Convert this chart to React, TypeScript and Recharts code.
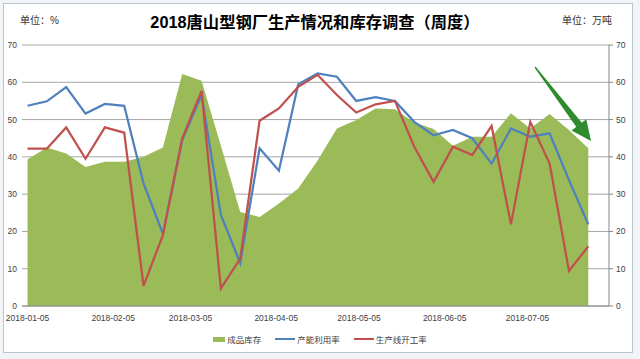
import React from 'react';
import { ComposedChart, Area, Line, XAxis, YAxis, CartesianGrid, Legend } from 'recharts';

// weekly survey dates
const dates = [
  '2018-01-05', '2018-01-12', '2018-01-19', '2018-01-26', '2018-02-02', '2018-02-09',
  '2018-02-16', '2018-02-23', '2018-03-02', '2018-03-09', '2018-03-16', '2018-03-23',
  '2018-03-30', '2018-04-06', '2018-04-13', '2018-04-20', '2018-04-27', '2018-05-04',
  '2018-05-11', '2018-05-18', '2018-05-25', '2018-06-01', '2018-06-08', '2018-06-15',
  '2018-06-22', '2018-06-29', '2018-07-06', '2018-07-13', '2018-07-20', '2018-07-27',
];

// 成品库存 (万吨)
const inventory = [
  39.3, 42.5, 40.9, 37.3, 38.7, 38.7, 40.0, 42.5, 62.2, 60.4,
  43.0, 25.2, 23.9, 27.5, 31.5, 39.0, 47.6, 49.9, 53.0, 52.8,
  49.2, 47.5, 43.0, 45.4, 45.4, 51.7, 47.6, 51.5, 47.2, 42.3,
];

// 产能利用率 (%)
const capacityRate = [
  53.7, 54.9, 58.7, 51.6, 54.2, 53.7, 32.9, 19.4, 44.5, 56.6,
  24.4, 11.5, 42.3, 36.3, 59.5, 62.4, 61.5, 55.0, 56.0, 55.0,
  49.4, 45.8, 47.2, 45.0, 38.2, 47.6, 45.4, 46.3, 33.8, 21.9,
];

// 生产线开工率 (%)
const operatingRate = [
  42.2, 42.2, 47.9, 39.5, 47.9, 46.5, 5.4, 19.0, 44.9, 57.7,
  4.7, 12.7, 49.7, 53.0, 58.8, 62.0, 56.6, 51.9, 54.1, 55.0,
  42.7, 33.3, 42.7, 40.5, 48.3, 21.9, 49.4, 38.2, 9.4, 16.0,
];

const tickLabels = ['2018-01-05', '2018-02-05', '2018-03-05', '2018-04-05', '2018-05-05', '2018-06-05', '2018-07-05'];
const yTicks = [0, 10, 20, 30, 40, 50, 60, 70];

const seriesOrder = ['inventory', 'capacity', 'operating'];
const seriesNames = { inventory: '成品库存', capacity: '产能利用率', operating: '生产线开工率' };
const seriesColors: Record<string, string> = { inventory: '#9BBB59', capacity: '#4F81BD', operating: '#C0504D' };

const FONT = '"Liberation Sans", "Noto Sans CJK SC", sans-serif';
const DAY = 86400000;
const toDay = (d: string) => (Date.parse(d) - Date.parse(dates[0])) / DAY;

const data = dates.map((d, i) => ({
  day: toDay(d),
  date: d,
  inventory: inventory[i],
  capacity: capacityRate[i],
  operating: operatingRate[i],
}));

const tickDays = tickLabels.map(toDay);
const formatTick = (v: number) => tickLabels[tickDays.indexOf(v)] ?? '';

const LegendContent = ({ payload }: any) => {
  const items = [...(payload || [])].sort(
    (a: any, b: any) => seriesOrder.indexOf(a.dataKey) - seriesOrder.indexOf(b.dataKey)
  );
  return (
    <div style={{ display: 'flex', justifyContent: 'center', alignItems: 'center', height: 20, gap: 14, fontSize: 8.5, color: '#404040', fontFamily: FONT }}>
      {items.map((entry: any) => (
        <div key={entry.dataKey} style={{ display: 'flex', alignItems: 'center' }}>
          {entry.dataKey === 'inventory'
            ? <span style={{ display: 'inline-block', width: 12, height: 5, background: seriesColors[entry.dataKey] }} />
            : <span style={{ display: 'inline-block', width: 20, height: 2, background: seriesColors[entry.dataKey] }} />}
          <span style={{ marginLeft: 2 }}>{entry.value}</span>
        </div>
      ))}
    </div>
  );
};

const tickStyle = { fill: '#404040', fontSize: 8.5, fontFamily: FONT };

export default function App() {
  return (
    <div style={{ position: 'absolute', left: 0, top: 0, width: 640, height: 359, background: '#f2f4f7', overflow: 'hidden' }}>
      <div style={{ position: 'absolute', left: 3, top: 3, width: 628, height: 348, background: '#fff', border: '1px solid #b6c3d1' }} />
      <div style={{ position: 'absolute', left: 20, top: 12, fontSize: 10, color: '#333', fontFamily: FONT }}>单位：%</div>
      <div style={{ position: 'absolute', left: 562, top: 12, fontSize: 10, color: '#333', fontFamily: FONT }}>单位：万吨</div>
      <div style={{ position: 'absolute', left: 0, width: 630, top: 9, textAlign: 'center', fontSize: 16.3, fontWeight: 'bold', color: '#000', fontFamily: FONT }}>
        2018唐山型钢厂生产情况和库存调查（周度）
      </div>
      <div style={{ position: 'absolute', left: 0, top: 0 }}>
        <ComposedChart width={640} height={359} data={data} margin={{ top: 45, right: 0, bottom: 10, left: 0 }}>
          <CartesianGrid yAxisId="left" vertical={false} stroke="#a6a6a6" />
          <XAxis
            dataKey="day"
            type="number"
            domain={[-2, 210.5]}
            ticks={tickDays}
            interval={0}
            tickFormatter={formatTick}
            height={23}
            stroke="#868686"
            tickLine={false}
            tickMargin={3}
            tick={tickStyle}
          />
          <YAxis
            yAxisId="left"
            domain={[0, 70]}
            ticks={yTicks}
            width={22}
            axisLine={false}
            tickLine={false}
            tickSize={0}
            tickMargin={5}
            tick={tickStyle}
          />
          <YAxis
            yAxisId="right"
            orientation="right"
            domain={[0, 70]}
            ticks={yTicks}
            width={31}
            stroke="#868686"
            tickSize={4}
            tickMargin={3}
            tick={{ ...tickStyle, textAnchor: 'start' }}
          />
          <Legend verticalAlign="bottom" height={20} content={<LegendContent />} />
          <Area
            yAxisId="right"
            type="linear"
            dataKey="inventory"
            name={seriesNames.inventory}
            fill={seriesColors.inventory}
            fillOpacity={1}
            stroke="none"
            legendType="rect"
            isAnimationActive={false}
          />
          <Line
            yAxisId="left"
            type="linear"
            dataKey="capacity"
            name={seriesNames.capacity}
            stroke={seriesColors.capacity}
            strokeWidth={2.25}
            dot={false}
            legendType="line"
            isAnimationActive={false}
          />
          <Line
            yAxisId="left"
            type="linear"
            dataKey="operating"
            name={seriesNames.operating}
            stroke={seriesColors.operating}
            strokeWidth={2.25}
            dot={false}
            legendType="line"
            isAnimationActive={false}
          />
        </ComposedChart>
      </div>
      {/* annotation arrow */}
      <svg width={640} height={359} style={{ position: 'absolute', left: 0, top: 0, pointerEvents: 'none' }}>
        <polygon points="534.5,67.4 535.5,66.6 582,123 576.5,127.2" fill="#2e8b2e" />
        <polygon points="591,141 571.5,130.5 586.3,119.3" fill="#2e8b2e" />
      </svg>
    </div>
  );
}
